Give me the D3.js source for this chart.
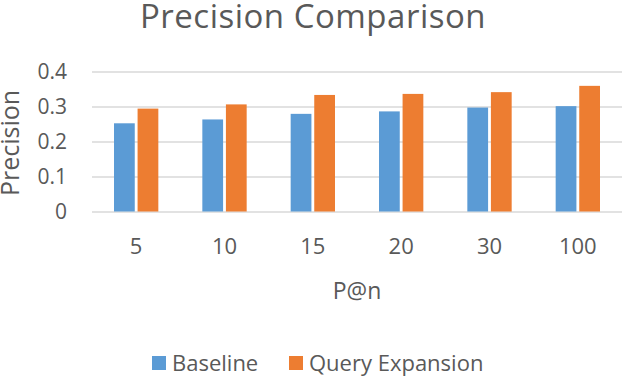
<!DOCTYPE html>
<meta charset="utf-8">
<style>
body { margin: 0; background: #fff; }
.chart text { fill: #595959; font-family: "Open Sans", sans-serif; }
.grid line { stroke: #d9d9d9; stroke-width: 1.5px; }
.grid path { display: none; }
</style>
<svg class="chart"></svg>
<script src="https://d3js.org/d3.v7.min.js"></script>
<script>

var categories = ["5", "10", "15", "20", "30", "100"];
var baseline = [0.252, 0.263, 0.279, 0.286, 0.297, 0.301];
var expansion = [0.294, 0.306, 0.333, 0.336, 0.341, 0.359];
var seriesNames = ["Baseline", "Query Expansion"];
var yTicks = [0, 0.1, 0.2, 0.3, 0.4];

var colors = ["#5b9bd5", "#ed7d31"];
var width = 640,
    height = 376;
var margin = {left: 92, right: 18, top: 71.5, bottom: 164.5};

var svg = d3.select(".chart")
    .attr("width", width)
    .attr("height", height);

var x0 = d3.scaleBand()
    .domain(categories)
    .range([margin.left, width - margin.right]);

var x1 = d3.scaleBand()
    .domain(seriesNames)
    .range([22, x0.bandwidth() - 22])
    .paddingInner(0.12);

var y = d3.scaleLinear()
    .domain([0, 0.4])
    .range([height - margin.bottom, margin.top]);

// gridlines
svg.append("g")
    .attr("class", "grid")
    .attr("transform", "translate(" + margin.left + ",0)")
    .call(d3.axisLeft(y).tickValues(yTicks).tickSize(-(width - margin.left - margin.right)).tickFormat(""));

// y tick labels
svg.append("g")
    .selectAll("text")
    .data(yTicks)
  .enter().append("text")
    .attr("x", 67)
    .attr("y", function(d) { return y(d); })
    .attr("dy", "0.35em")
    .attr("text-anchor", "end")
    .style("font-size", "21px")
    .text(function(d) { return d3.format("")(d); });

var rows = categories.map(function(c, i) {
  return {cat: c, values: [baseline[i], expansion[i]]};
});

var group = svg.selectAll(".bars")
    .data(rows)
  .enter().append("g")
    .attr("class", "bars")
    .attr("transform", function(d) { return "translate(" + x0(d.cat) + ",0)"; });

group.selectAll("rect")
    .data(function(d) { return d.values.map(function(v, j) { return {name: seriesNames[j], value: v, j: j}; }); })
  .enter().append("rect")
    .attr("x", function(d) { return x1(d.name); })
    .attr("y", function(d) { return y(d.value); })
    .attr("width", x1.bandwidth())
    .attr("height", function(d) { return y(0) - y(d.value); })
    .attr("fill", function(d) { return colors[d.j]; });

// x tick labels
svg.append("g")
    .selectAll("text")
    .data(categories)
  .enter().append("text")
    .attr("x", function(d) { return x0(d) + x0.bandwidth() / 2; })
    .attr("y", 254)
    .attr("text-anchor", "middle")
    .style("font-size", "22px")
    .text(function(d) { return d; });

// axis titles
svg.append("text")
    .attr("x", 357)
    .attr("y", 299)
    .attr("text-anchor", "middle")
    .style("font-size", "23px")
    .text("P@n");

svg.append("text")
    .attr("transform", "translate(19,143) rotate(-90)")
    .attr("text-anchor", "middle")
    .style("font-size", "25px")
    .text("Precision");

// title
svg.append("text")
    .attr("x", 313)
    .attr("y", 28)
    .attr("text-anchor", "middle")
    .style("font-size", "33px")
    .style("letter-spacing", "0.5px")
    .text("Precision Comparison");

// legend
var legendX = [152, 289];
var legend = svg.selectAll(".legend")
    .data(seriesNames)
  .enter().append("g")
    .attr("class", "legend")
    .attr("transform", function(d, i) { return "translate(" + legendX[i] + ",356)"; });

legend.append("rect")
    .attr("width", 14)
    .attr("height", 14)
    .attr("fill", function(d, i) { return colors[i]; });

legend.append("text")
    .attr("x", 20)
    .attr("y", 7)
    .attr("dy", "0.35em")
    .style("font-size", "22px")
    .text(function(d) { return d; });

</script>
